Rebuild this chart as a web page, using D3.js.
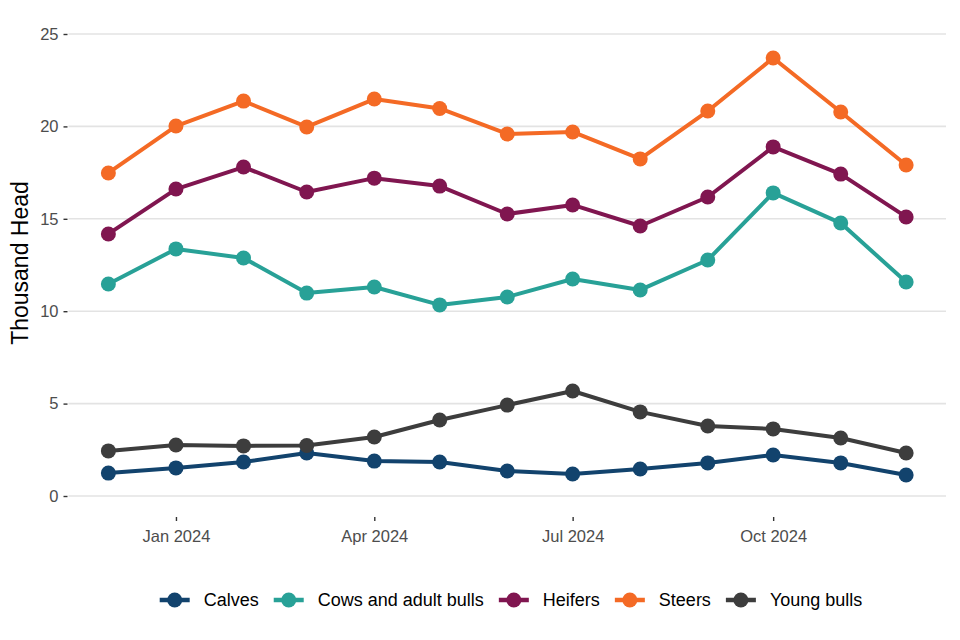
<!DOCTYPE html>
<html>
<head>
<meta charset="utf-8">
<script src="https://cdn.jsdelivr.net/npm/d3@7"></script>
<style>
  body { margin: 0; background: #fff; }
  svg { font-family: "Liberation Sans", Arial, sans-serif; }
</style>
</head>
<body>
<div id="chart"></div>
<script>
var months = ["2023-12", "2024-01", "2024-02", "2024-03", "2024-04", "2024-05", "2024-06",
              "2024-07", "2024-08", "2024-09", "2024-10", "2024-11", "2024-12"];

var calves = [1.24, 1.52, 1.84, 2.33, 1.89, 1.84, 1.35, 1.19, 1.46, 1.79, 2.22, 1.79, 1.14];
var cows = [11.47, 13.37, 12.88, 10.98, 11.31, 10.34, 10.77, 11.74, 11.15, 12.77, 16.40, 14.77, 11.58];
var heifers = [14.18, 16.61, 17.80, 16.45, 17.20, 16.77, 15.26, 15.75, 14.61, 16.18, 18.89, 17.42, 15.10];
var steers = [17.48, 20.02, 21.37, 19.97, 21.48, 20.97, 19.59, 19.70, 18.24, 20.83, 23.70, 20.78, 17.91];
var youngBulls = [2.44, 2.76, 2.71, 2.73, 3.19, 4.11, 4.92, 5.68, 4.55, 3.79, 3.63, 3.14, 2.33];

var seriesNames = ["Calves", "Cows and adult bulls", "Heifers", "Steers", "Young bulls"];
var seriesColors = ["#12436D", "#28A197", "#801650", "#F46A25", "#3D3D3D"];
var yTicks = [0, 5, 10, 15, 20, 25];
var xTicks = ["2024-01", "2024-04", "2024-07", "2024-10"];

var width = 960, height = 640;
var panelLeft = 68.5, panelRight = 946, panelTop = 34, panelBottom = 496;

var parse = d3.timeParse("%Y-%m");
var dates = months.map(parse);
var allValues = [calves, cows, heifers, steers, youngBulls];

var series = seriesNames.map(function(name, i) {
    return {
        name: name,
        color: seriesColors[i],
        values: dates.map(function(d, j) { return { date: d, value: allValues[i][j] }; })
    };
});

var svg = d3.select("#chart")
    .append("svg")
    .attr("width", width)
    .attr("height", height);

// ggplot-style 5% expansion on the x domain
var x0 = dates[0], x1 = dates[dates.length - 1];
var pad = (x1 - x0) * 0.05;
var xScale = d3.scaleTime()
    .domain([new Date(+x0 - pad), new Date(+x1 + pad)])
    .range([panelLeft, panelRight]);

var yScale = d3.scaleLinear()
    .domain([0, 25])
    .range([panelBottom, panelTop]);

// horizontal grid
svg.append("g")
    .selectAll("line")
    .data(yTicks)
    .join("line")
    .attr("x1", panelLeft)
    .attr("x2", panelRight)
    .attr("y1", function(d) { return yScale(d); })
    .attr("y2", function(d) { return yScale(d); })
    .attr("stroke", "#e3e3e3")
    .attr("stroke-width", 1.6);

// y axis
var yAxis = d3.axisLeft(yScale)
    .tickValues(yTicks)
    .tickSize(4)
    .tickPadding(5);

var gy = svg.append("g")
    .attr("transform", "translate(" + (panelLeft - 1) + ",0)")
    .call(yAxis);
gy.select(".domain").remove();
gy.selectAll(".tick line").attr("stroke", "#333").attr("stroke-width", 1.4);
gy.selectAll(".tick text").attr("fill", "#4d4d4d").style("font-size", "16.5px");

// x axis
var xAxis = d3.axisBottom(xScale)
    .tickValues(xTicks.map(parse))
    .tickFormat(d3.timeFormat("%b %Y"))
    .tickSize(4)
    .tickPadding(9);

var gx = svg.append("g")
    .attr("transform", "translate(0," + (panelBottom + 21) + ")")
    .call(xAxis);
gx.select(".domain").remove();
gx.selectAll(".tick line").attr("stroke", "#333").attr("stroke-width", 1.4);
gx.selectAll(".tick text").attr("fill", "#4d4d4d").style("font-size", "16.5px");

// y title
svg.append("text")
    .attr("transform", "translate(28," + 263 + ") rotate(-90)")
    .attr("text-anchor", "middle")
    .style("font-size", "23px")
    .attr("fill", "#000")
    .text("Thousand Head");

var line = d3.line()
    .x(function(d) { return xScale(d.date); })
    .y(function(d) { return yScale(d.value); });

var gs = svg.append("g")
    .selectAll("g")
    .data(series)
    .join("g");

gs.append("path")
    .attr("d", function(d) { return line(d.values); })
    .attr("fill", "none")
    .attr("stroke", function(d) { return d.color; })
    .attr("stroke-width", 4)
    .attr("stroke-linejoin", "round");

gs.selectAll("circle")
    .data(function(d) { return d.values.map(function(v) { return { v: v, color: d.color }; }); })
    .join("circle")
    .attr("cx", function(d) { return xScale(d.v.date); })
    .attr("cy", function(d) { return yScale(d.v.value); })
    .attr("r", 7.5)
    .attr("fill", function(d) { return d.color; });

// legend
var legend = svg.append("g").attr("transform", "translate(0,600)");
var items = legend.selectAll("g")
    .data(series)
    .join("g");

items.append("line")
    .attr("x1", 0).attr("x2", 30)
    .attr("stroke", function(d) { return d.color; })
    .attr("stroke-width", 4.5);
items.append("circle")
    .attr("cx", 15)
    .attr("r", 7.5)
    .attr("fill", function(d) { return d.color; });
items.append("text")
    .attr("x", 44)
    .attr("dy", "0.35em")
    .style("font-size", "18px")
    .attr("fill", "#000")
    .text(function(d) { return d.name; });

var widths = [];
items.each(function() {
    widths.push(d3.select(this).select("text").node().getComputedTextLength() + 44);
});
var gap = 15;
var total = d3.sum(widths) + gap * (widths.length - 1);
var xpos = 511 - total / 2;
items.attr("transform", function(d, i) {
    var p = xpos;
    xpos += widths[i] + gap;
    return "translate(" + p + ",0)";
});
</script>
</body>
</html>
